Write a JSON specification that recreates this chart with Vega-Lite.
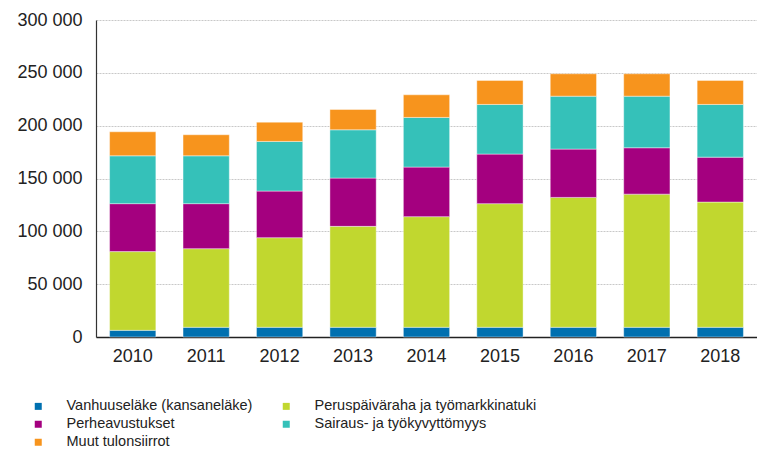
{
  "$schema": "https://vega.github.io/schema/vega-lite/v6.json",
  "width": 661,
  "height": 317,
  "autosize": {"type": "none"},
  "padding": {"left": 96, "top": 20, "right": 0, "bottom": 122},
  "background": "white",
  "config": {
    "view": {"stroke": null},
    "font": "Liberation Sans"
  },
  "data": {
    "values": [
      {"year": "2010", "o": 1, "cat": "Vanhuuseläke (kansaneläke)", "value": 6300},
      {"year": "2010", "o": 2, "cat": "Peruspäiväraha ja työmarkkinatuki", "value": 74500},
      {"year": "2010", "o": 3, "cat": "Perheavustukset", "value": 45400},
      {"year": "2010", "o": 4, "cat": "Sairaus- ja työkyvyttömyys", "value": 45300},
      {"year": "2010", "o": 5, "cat": "Muut tulonsiirrot", "value": 22700},
      {"year": "2011", "o": 1, "cat": "Vanhuuseläke (kansaneläke)", "value": 9200},
      {"year": "2011", "o": 2, "cat": "Peruspäiväraha ja työmarkkinatuki", "value": 74400},
      {"year": "2011", "o": 3, "cat": "Perheavustukset", "value": 42600},
      {"year": "2011", "o": 4, "cat": "Sairaus- ja työkyvyttömyys", "value": 45300},
      {"year": "2011", "o": 5, "cat": "Muut tulonsiirrot", "value": 19900},
      {"year": "2012", "o": 1, "cat": "Vanhuuseläke (kansaneläke)", "value": 9200},
      {"year": "2012", "o": 2, "cat": "Peruspäiväraha ja työmarkkinatuki", "value": 84800},
      {"year": "2012", "o": 3, "cat": "Perheavustukset", "value": 44100},
      {"year": "2012", "o": 4, "cat": "Sairaus- ja työkyvyttömyys", "value": 47000},
      {"year": "2012", "o": 5, "cat": "Muut tulonsiirrot", "value": 18200},
      {"year": "2013", "o": 1, "cat": "Vanhuuseläke (kansaneläke)", "value": 9200},
      {"year": "2013", "o": 2, "cat": "Peruspäiväraha ja työmarkkinatuki", "value": 95500},
      {"year": "2013", "o": 3, "cat": "Perheavustukset", "value": 45700},
      {"year": "2013", "o": 4, "cat": "Sairaus- ja työkyvyttömyys", "value": 45700},
      {"year": "2013", "o": 5, "cat": "Muut tulonsiirrot", "value": 19200},
      {"year": "2014", "o": 1, "cat": "Vanhuuseläke (kansaneläke)", "value": 9200},
      {"year": "2014", "o": 2, "cat": "Peruspäiväraha ja työmarkkinatuki", "value": 104700},
      {"year": "2014", "o": 3, "cat": "Perheavustukset", "value": 46900},
      {"year": "2014", "o": 4, "cat": "Sairaus- ja työkyvyttömyys", "value": 47000},
      {"year": "2014", "o": 5, "cat": "Muut tulonsiirrot", "value": 21400},
      {"year": "2015", "o": 1, "cat": "Vanhuuseläke (kansaneläke)", "value": 9200},
      {"year": "2015", "o": 2, "cat": "Peruspäiväraha ja työmarkkinatuki", "value": 117000},
      {"year": "2015", "o": 3, "cat": "Perheavustukset", "value": 46900},
      {"year": "2015", "o": 4, "cat": "Sairaus- ja työkyvyttömyys", "value": 47000},
      {"year": "2015", "o": 5, "cat": "Muut tulonsiirrot", "value": 22700},
      {"year": "2016", "o": 1, "cat": "Vanhuuseläke (kansaneläke)", "value": 9200},
      {"year": "2016", "o": 2, "cat": "Peruspäiväraha ja työmarkkinatuki", "value": 122900},
      {"year": "2016", "o": 3, "cat": "Perheavustukset", "value": 45700},
      {"year": "2016", "o": 4, "cat": "Sairaus- ja työkyvyttömyys", "value": 50100},
      {"year": "2016", "o": 5, "cat": "Muut tulonsiirrot", "value": 21200},
      {"year": "2017", "o": 1, "cat": "Vanhuuseläke (kansaneläke)", "value": 9200},
      {"year": "2017", "o": 2, "cat": "Peruspäiväraha ja työmarkkinatuki", "value": 126000},
      {"year": "2017", "o": 3, "cat": "Perheavustukset", "value": 43900},
      {"year": "2017", "o": 4, "cat": "Sairaus- ja työkyvyttömyys", "value": 48800},
      {"year": "2017", "o": 5, "cat": "Muut tulonsiirrot", "value": 21200},
      {"year": "2018", "o": 1, "cat": "Vanhuuseläke (kansaneläke)", "value": 9200},
      {"year": "2018", "o": 2, "cat": "Peruspäiväraha ja työmarkkinatuki", "value": 118500},
      {"year": "2018", "o": 3, "cat": "Perheavustukset", "value": 42500},
      {"year": "2018", "o": 4, "cat": "Sairaus- ja työkyvyttömyys", "value": 49900},
      {"year": "2018", "o": 5, "cat": "Muut tulonsiirrot", "value": 22700}
    ]
  },
  "mark": {"type": "bar", "stroke": "#ffffff", "strokeWidth": 0.6, "strokeOpacity": 0.7},
  "encoding": {
    "x": {
      "field": "year",
      "type": "ordinal",
      "title": null,
      "scale": {"paddingInner": 0.37, "paddingOuter": 0.185},
      "axis": {
        "labelAngle": 0,
        "labelFontSize": 18,
        "labelColor": "#222",
        "labelPadding": 10,
        "ticks": false,
        "domainColor": "#222",
        "domainWidth": 1.5,
        "grid": false
      }
    },
    "y": {
      "field": "value",
      "type": "quantitative",
      "aggregate": "sum",
      "stack": "zero",
      "title": null,
      "scale": {"domain": [0, 300000], "nice": false},
      "axis": {
        "values": [0, 50000, 100000, 150000, 200000, 250000, 300000],
        "labelExpr": "replace(format(datum.value, ','), ',', ' ')",
        "labelFontSize": 18,
        "labelColor": "#222",
        "labelPadding": 14,
        "ticks": false,
        "domainColor": "#333",
        "domainWidth": 1.2,
        "grid": true,
        "gridColor": "#c8c8c8",
        "gridDash": [2, 1],
        "gridWidth": 1
      }
    },
    "color": {
      "field": "cat",
      "type": "nominal",
      "sort": ["Vanhuuseläke (kansaneläke)", "Peruspäiväraha ja työmarkkinatuki", "Perheavustukset", "Sairaus- ja työkyvyttömyys", "Muut tulonsiirrot"],
      "scale": {
        "domain": ["Vanhuuseläke (kansaneläke)", "Peruspäiväraha ja työmarkkinatuki", "Perheavustukset", "Sairaus- ja työkyvyttömyys", "Muut tulonsiirrot"],
        "range": ["#0070b0", "#c1d72f", "#a4007f", "#35c1b9", "#f7941d"]
      },
      "legend": {
        "title": null,
        "orient": "none",
        "direction": "horizontal",
        "legendX": -65,
        "legendY": 379,
        "columns": 2,
        "columnPadding": 26,
        "rowPadding": 3,
        "symbolType": "square",
        "symbolSize": 49,
        "symbolStrokeWidth": 0,
        "labelOffset": 21,
        "labelFont": "Liberation Sans",
        "labelFontSize": 14.5,
        "labelColor": "#222",
        "labelLimit": 400,
        "padding": 0
      }
    },
    "order": {"field": "o", "type": "quantitative", "aggregate": "min"}
  }
}
